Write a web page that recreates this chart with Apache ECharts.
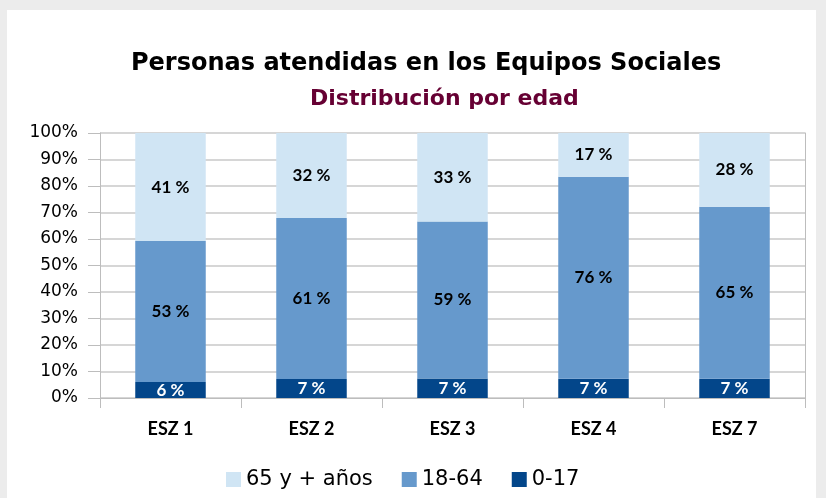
<!DOCTYPE html>
<html>
<head>
<meta charset="utf-8">
<script src="https://cdn.jsdelivr.net/npm/echarts@6/dist/echarts.min.js"></script>
<style>
html,body{margin:0;padding:0;background:#ececec;}
#c{width:826px;height:498px;}
</style>
</head>
<body>
<div id="c"></div>
<script>
const categories = ['ESZ 1', 'ESZ 2', 'ESZ 3', 'ESZ 4', 'ESZ 7'];
const age0_17 = [6.0, 7.2, 7.4, 7.3, 7.3];
const age18_64 = [53.2, 60.7, 59.2, 76.2, 64.9];
const age65 = [40.8, 32.1, 33.4, 16.5, 27.8];
const yTicks = [0, 10, 20, 30, 40, 50, 60, 70, 80, 90, 100];
const seriesNames = ['0-17', '18-64', '65 y + años'];

const chart = echarts.init(document.getElementById('c'));
const labelFont = {fontFamily: 'Lato', fontWeight: 'bold', fontSize: 17};
function mk(name, data, color, labelColor) {
  return {
    name: name, type: 'bar', stack: 'a', data: data, barWidth: '50%',
    itemStyle: {color: color},
    label: Object.assign({show: true, position: 'inside', color: labelColor,
      formatter: p => Math.round(p.value) + ' %'}, labelFont)
  };
}
chart.setOption({
  animation: false,
  graphic: [{type: 'rect', z: -10, shape: {x: 7, y: 10, width: 809, height: 488}, style: {fill: '#ffffff'}}],
  title: [
    {text: 'Personas atendidas en los Equipos Sociales', left: 126, top: 47,
     textStyle: {fontFamily: 'DejaVu Sans', fontWeight: 'bold', fontSize: 24, color: '#000'}},
    {text: 'Distribución por edad', left: 305, top: 83,
     textStyle: {fontFamily: 'DejaVu Sans', fontWeight: 'bold', fontSize: 22, color: '#660033'}}
  ],
  legend: {
    data: ['65 y + años', '18-64', '0-17'], left: 221, top: 464,
    icon: 'rect', itemWidth: 15, itemHeight: 15, itemGap: 29,
    textStyle: {fontFamily: 'DejaVu Sans', fontSize: 21, color: '#000'}
  },
  grid: {left: 100, right: 21, top: 133, bottom: 100},
  xAxis: {
    type: 'category', data: categories,
    axisLine: {lineStyle: {color: '#bdbdbd', width: 1}},
    axisTick: {show: true, length: 10, lineStyle: {color: '#bdbdbd'}},
    axisLabel: {color: '#000', fontFamily: 'Lato', fontWeight: 'bold', fontSize: 18, margin: 22}
  },
  yAxis: [{
    type: 'value', min: 0, max: 100, interval: 10,
    axisLine: {show: true, lineStyle: {color: '#bdbdbd'}},
    axisTick: {show: true, length: 12, lineStyle: {color: '#bdbdbd'}},
    splitLine: {lineStyle: {color: '#c8c8c8', width: 1.5}},
    axisLabel: {color: '#000', fontFamily: 'DejaVu Sans', fontSize: 17, margin: 22,
      formatter: v => yTicks.includes(v) ? v + '%' : ''}
  }, {
    type: 'value', min: 0, max: 100, interval: 10, position: 'right',
    axisLine: {show: true, lineStyle: {color: '#bdbdbd'}},
    axisTick: {show: false}, axisLabel: {show: false}, splitLine: {show: false}
  }],
  series: [
    mk('0-17', age0_17, '#03468a', '#ffffff'),
    mk('18-64', age18_64, '#6699cc', '#000000'),
    mk('65 y + años', age65, '#d0e5f4', '#000000')
  ]
});
</script>
</body>
</html>
